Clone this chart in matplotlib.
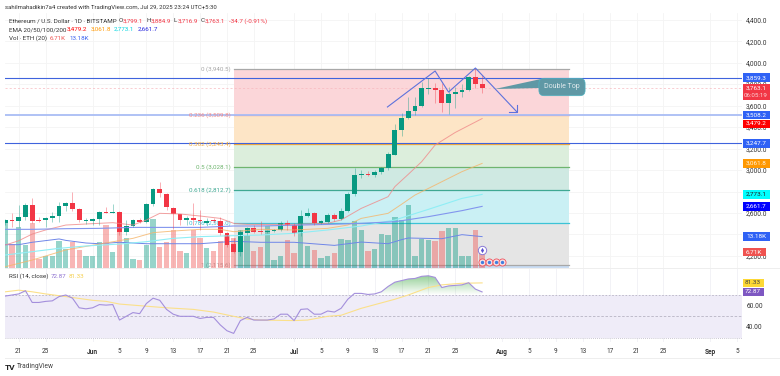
import numpy as np
import matplotlib
matplotlib.use('Agg')
import matplotlib.pyplot as plt
from matplotlib.patches import Rectangle
from matplotlib.path import Path

plt.rcParams['font.family'] = ['Roboto', 'DejaVu Sans']

W, H = 780, 376

# daily candles, day 0 is May 19 2025
opens = [2504,2535,2529,2560,2671,2535,2535,2553,2572,2665,2690,2637,2529,2529,2544,2612,2597,2612,2420,2482,
         2535,2516,2684,2823,2777,2650,2588,2535,2550,2535,2510,2529,2529,2411,2311,2234,2417,2457,2432,2423,
         2432,2442,2510,2488,2411,2575,2603,2510,2519,2578,2541,2622,2777,2954,2966,2954,2978,3016,3140,3376,
         3481,3549,3596,3757,3767,3748,3627,3708,3726,3745,3869,3799.1]
highs = [2545,2597,2674,2690,2736,2566,2566,2612,2705,2699,2792,2643,2557,2557,2622,2653,2681,2622,2535,2544,
         2550,2696,2830,2885,2783,2659,2588,2572,2690,2628,2550,2550,2566,2426,2364,2442,2473,2488,2528,2445,
         2450,2528,2535,2504,2628,2650,2612,2535,2603,2597,2643,2798,3015,3005,2990,3000,3030,3171,3425,3528,
         3683,3683,3816,3854,3807,3807,3776,3776,3798,3878,3953,3884.9]
lows = [2490,2473,2473,2535,2504,2519,2473,2519,2519,2622,2622,2519,2497,2488,2488,2597,2597,2395,2395,2473,
        2510,2510,2665,2746,2628,2451,2488,2488,2488,2442,2488,2504,2395,2280,2224,2200,2395,2411,2404,2410,
        2420,2435,2442,2389,2386,2566,2488,2498,2510,2525,2535,2612,2760,2930,2945,2935,2960,3000,3140,3320,
        3475,3512,3590,3705,3621,3537,3518,3580,3683,3736,3760,3716.9]
closes = [2535,2529,2560,2671,2529,2529,2557,2572,2665,2690,2634,2535,2535,2544,2612,2597,2612,2420,2482,2535,
          2516,2684,2823,2783,2653,2591,2535,2553,2535,2529,2529,2525,2411,2302,2234,2426,2457,2426,2423,2432,
          2442,2510,2488,2411,2575,2603,2510,2525,2578,2541,2622,2777,2954,2966,2954,2978,3016,3146,3376,3481,
          3549,3596,3760,3764,3748,3627,3708,3726,3745,3869,3798,3763.1]
volumes = [18.9,10,17.3,9.5,18.9,3.9,4.9,4.9,11.2,8.1,10.9,7.4,5.2,5.2,10.9,18.2,6.7,18.2,12.6,3.8,
           3.2,9.8,20.6,8.8,10.9,15.9,7.3,6.3,15.8,12.6,8.4,7,11.2,14,12.6,15.8,13.7,7.3,8.8,17.5,
           3.5,4.9,11.9,6.3,16.8,9.4,7.7,4,4.9,6.5,12.1,11.9,19.9,16.1,7.3,8.1,14.4,14,21.4,20.3,
           26.6,5.2,12.1,11.6,11.2,15.5,16.7,16.8,5.2,4.9,16.1,6.71]

ema20_days = [0,2,4,6,9,14,16,19,21,23,26,29,32,34,36,38,43,48,50,53,57,58,60,62,64,67,71]
ema20 = [2302,2342,2404,2442,2488,2504,2510,2488,2535,2597,2591,2572,2550,2504,2495,2494,2494,2504,2535,2643,2752,2845,2960,3078,3233,3350,3479.2]
ema50_days = [0,4,9,14,19,22,25,29,32,34,38,43,48,51,53,57,59,61,64,68,71]
ema50 = [2100,2162,2256,2311,2364,2417,2432,2448,2448,2426,2448,2442,2457,2488,2550,2597,2681,2767,2860,2985,3061.8]
ema100_days = [0,4,8,12,17,21,25,29,34,38,43,48,53,58,63,68,71]
ema100 = [2209,2240,2271,2293,2311,2333,2364,2380,2389,2395,2411,2442,2479,2535,2634,2736,2773.1]
ema200_days = [0,4,9,14,19,24,29,34,38,48,53,58,63,68,71]
ema200 = [2448,2448,2454,2457,2466,2466,2466,2479,2479,2494,2504,2519,2566,2622,2661.7]
volma_days = [0,2,4,8,9,12,14,17,21,25,29,34,38,43,49,53,57,59,60,65,68,71]
volma = [9.8,9.8,10.8,12.2,11.6,10.5,10.2,10.8,10.2,10.2,10.2,11.2,10.8,10.8,9.5,10.9,10.2,11.9,12.6,12.3,14,13.18]

rsi = [69,70,71,74,63,63,64,64.5,68.5,70,67,58,57,58,61,60.5,61,46.5,50,53.5,
       52.5,62,67,65,56.5,52,50,50,50,48,49,49,42,36.5,34,46,49,46.5,46.5,46.5,
       47.5,52,52,46,56.5,57,52,52,55,54,57.5,66,71.5,71.5,70.5,71,73,78,82,83.5,
       85,85.5,87.5,88,86.5,77,78.5,79,79.5,81.5,75.5,72.87]
rsima_days = [0,2,4,6,9,13,15,17,20,24,28,31,34,36,38,43,45,48,50,53,58,60,63,65,68,71]
rsima = [73,74.5,73,71,68.5,65,64,61.5,60,58,56.5,54,50,47.5,46.5,46,46.5,50,51,57.5,66,70,77,79.5,81,81.33]

fib_ratios = ['0', '0.236', '0.382', '0.5', '0.618', '0.786', '1']
fib_prices = [3940.5, 3509.8, 3243.4, 3028.1, 2812.7, 2506.0, 2115.6]
fib_fills = ['#fbd6d9', '#fde5c6', '#dceedc', '#cfe9e2', '#caf0f4', '#e5e5e5']
fib_lines = ['#a8a8a8', '#f28a8a', '#f2a93b', '#6fb56f', '#3fa893', '#3cc3d6', '#a8a8a8']
fib_start, fib_end = 34, 84

hlines = [3859.3, 3508.2, 3247.7]
price_ticks = [4400,4200,4000,3800,3600,3400,3200,3000,2800,2600,2400,2200]
rsi_ticks = [60, 40]
date_days = [2,6,13,17,21,25,29,33,37,43,47,51,55,59,63,67,74,78,82,86,90,94,98,105,109]
date_labels = ['21','25','Jun','5','9','13','17','21','25','Jul','5','9','13','17','21','25','Aug','5','9','13','17','21','25','Sep','5']
month_labels = ['Jun', 'Jul', 'Aug', 'Sep']

pattern_days = [56.9, 64, 66, 70, 76.2]
pattern_prices = [3587, 3922, 3726, 3950, 3540]
icon_days = [71, 72, 73, 74]

GREEN, RED = '#089981', '#f23645'
BLUE = '#3f63dd'

def fx(x):
    return x / W

def fy(y):
    return 1 - y / H

def pane(left, top, right, bottom):
    return fig.add_axes([fx(left), fy(bottom), (right - left) / W, (bottom - top) / H])

fig = plt.figure(figsize=(W / 100, H / 100), dpi=100, facecolor='white')
xlim = (-0.05, 109.7)

ax = pane(5, 13, 742, 268)
ax.set_xlim(*xlim)
ax.set_ylim(2088, 4462)
ax.set_xticks(date_days)
ax.grid(color='#f4f4f4', lw=0.6)
ax.set_axisbelow(True)
for s in ax.spines.values():
    s.set_visible(False)

# fib bands
for i in range(6):
    ax.fill_between([fib_start, fib_end], fib_prices[i], fib_prices[i + 1], color=fib_fills[i], lw=0, zorder=1)
ax.fill_between([fib_start, fib_end], fib_prices[6], 2088, color='#c9dcf3', lw=0, zorder=1)
for i, (r, p) in enumerate(zip(fib_ratios, fib_prices)):
    ax.plot([fib_start, fib_end], [p, p], color=fib_lines[i], lw=0.9, zorder=2)
    ax.text(fib_start - 0.5, p, f'{r} ({p:,.1f})', ha='right', va='center', fontsize=4.5, color=fib_lines[i], zorder=3)

for p in hlines:
    if p == 3508.2:
        ax.axhline(p, color='#a9bdf5', lw=1.3, zorder=2)
    else:
        ax.axhline(p, color=BLUE, lw=0.8, zorder=2)
ax.axhline(closes[-1], color='#f7b9bf', lw=0.5, ls=(0, (3, 3)), zorder=2)

# volume overlay
vax = ax.twinx()
vax.set_ylim(0, 107.1)
vax.axis('off')
days = np.arange(len(opens))
vcols = [GREEN if c >= o else '#ef5350' for o, c in zip(opens, closes)]
vax.bar(days, volumes, width=0.8, color=vcols, alpha=0.42, lw=0)
vax.plot(volma_days, volma, color='#6f86e8', lw=0.7)

# candles and emas
cax = ax.twinx()
cax.set_ylim(ax.get_ylim())
cax.axis('off')
cax.plot(ema20_days, ema20, color='#f08a8a', lw=0.7, alpha=0.8)
cax.plot(ema50_days, ema50, color='#f5b56a', lw=0.7, alpha=0.8)
cax.plot(ema100_days, ema100, color='#8feef5', lw=0.8)
cax.plot(ema200_days, ema200, color='#8295ee', lw=0.8)
for d, o, h, l, c in zip(days, opens, highs, lows, closes):
    col = GREEN if c >= o else RED
    cax.plot([d, d], [l, h], color=col, lw=0.5, alpha=0.55, solid_capstyle='butt')
    cax.bar(d, max(abs(c - o), 9), bottom=min(o, c), width=0.72, color=col, lw=0)

# twinx moves the ticks of ax to the left, so this has to come after
ax.yaxis.tick_right()
ax.set_yticks(price_ticks)
ax.set_yticklabels([f'{p:,.1f}' for p in price_ticks], fontsize=4.7, color='#333333')
ax.tick_params(length=0, labelbottom=False, pad=3)

# double top drawing
cax.plot(pattern_days, pattern_prices, color='#5d72dc', lw=0.8)
cax.plot([75.0, 76.2, 76.2], [3540, 3540, 3605], color='#5d72dc', lw=0.8)
fig.add_artist(plt.Polygon([(fx(495), fy(89)), (fx(541), fy(79)), (fx(541), fy(88))], transform=fig.transFigure, color='#5f98a5', lw=0))
fig.text(fx(562), fy(87), 'Double Top', ha='center', va='center', fontsize=5, color='#dfe9ec',
         bbox=dict(boxstyle='round,pad=0.75', fc='#5f98a5', ec='#4fb3c2', lw=0.5), zorder=4)

# end of chart icons
cax.scatter(icon_days, [2144] * 4, s=26, c='#fbe3e5', edgecolors='#f0505a', lw=0.6, zorder=5)
cax.scatter(icon_days, [2144] * 4, s=6, c='#3f7fe0', lw=0, zorder=6)
cax.scatter([71], [2255], s=36, c='white', edgecolors='#8a7ad6', lw=0.7, zorder=5)
cax.scatter([71], [2255], s=7, c='#5a50d0', marker='d', lw=0, zorder=6)

# rsi pane
rax = pane(5, 268, 742, 341.5)
rax.set_xlim(*xlim)
rax.set_ylim(26.4, 95.3)
for s in rax.spines.values():
    s.set_visible(False)
rax.set_xticks(date_days)
rax.set_xticklabels(date_labels, fontsize=4.7, color='#333333')
for t in rax.get_xticklabels():
    if t.get_text() in month_labels:
        t.set_fontweight('bold')
rax.yaxis.tick_right()
rax.set_yticks(rsi_ticks)
rax.set_yticklabels([f'{v:.2f}' for v in rsi_ticks], fontsize=4.7, color='#333333')
rax.tick_params(length=0, pad=3)
rax.tick_params(axis='x', pad=5)
rax.grid(color='#f0f0f5', lw=0.6)
rax.set_axisbelow(True)
rax.axhspan(30, 70, color='#efecf8', lw=0, zorder=1)
for v, dash in ((70, (2, 2)), (50, (3, 2)), (30, (1, 1.5))):
    rax.axhline(v, color='#b8b4c4', lw=0.6, ls=(0, dash), zorder=2)
poly = rax.fill_between(days, 70, rsi, where=np.array(rsi) >= 70, interpolate=True, color='none', lw=0)
rgba = np.zeros((64, 1, 4))
rgba[:, :, 0] = 0.30
rgba[:, :, 1] = 0.69
rgba[:, :, 2] = 0.31
rgba[:, 0, 3] = np.linspace(0.6, 0, 64)
img = rax.imshow(rgba, extent=[0, 71, 70, 88], origin='upper', aspect='auto', zorder=3)
img.set_clip_path(Path.make_compound_path(*poly.get_paths()), transform=rax.transData)
rax.set_xlim(*xlim)
rax.set_ylim(26.4, 95.3)
rax.plot(rsima_days, rsima, color='#fbe08a', lw=0.8, zorder=4)
rax.plot(days, rsi, color='#a48fdc', lw=0.8, zorder=5)

# pane separators
for y in (268, 358):
    fig.add_artist(plt.Line2D([fx(5), fx(780)], [fy(y), fy(y)], color='#eeeeee', lw=0.7))

# price tags on the right scale
def tag(axis, value, text, bg, fg='white', box_h=8.5, box_w=27, dy=0):
    y = H - axis.transData.transform((0, value))[1] + dy
    fig.add_artist(Rectangle((fx(742.5), fy(y + box_h / 2)), box_w / W, box_h / H, transform=fig.transFigure, fc=bg, ec='none', zorder=6))
    fig.text(fx(742.5 + box_w / 2), fy(y), text, ha='center', va='center', fontsize=4.6, color=fg, zorder=7)

tag(ax, hlines[0], '3,859.3', '#2f62f5')
y_last = H - ax.transData.transform((0, closes[-1]))[1]
fig.add_artist(Rectangle((fx(742.5), fy(99.5)), 27 / W, 16 / H, transform=fig.transFigure, fc='#f23645', ec='none', zorder=6))
fig.text(fx(756), fy(y_last), '3,763.1', ha='center', va='center', fontsize=4.6, color='white', zorder=7)
fig.text(fx(756), fy(y_last + 7), '06:05:19', ha='center', va='center', fontsize=4.4, color='#fbd5d8', zorder=7)
tag(ax, hlines[1], '3,508.2', '#2f62f5', box_h=8)
tag(ax, ema20[-1], '3,479.2', '#ff0000', box_h=8, dy=5)
tag(ax, hlines[2], '3,247.7', '#2f62f5')
tag(ax, ema50[-1], '3,061.8', '#ff9800', '#fff3dc')
tag(ax, ema100[-1], '2,773.1', '#00ffff', '#222222')
tag(ax, ema200[-1], '2,661.7', '#0000ff')
tag(vax, volma[-1], '13.18K', '#2f62f5')
tag(vax, volumes[-1], '6.71K', '#ef5350', box_w=23)
tag(rax, rsima[-1], '81.33', '#fdd835', '#444444', box_w=21)
tag(rax, rsi[-1], '72.87', '#7e57c2', 'white', box_w=21)

# header text
def label(x, y, s, color='#333333', size=4.5, **kw):
    fig.text(fx(x), fy(y), s, color=color, fontsize=size, va='center', ha='left', **kw)

label(5, 8, 'sahilmahadikin7a4 created with TradingView.com, Jul 29, 2025 23:24 UTC+5:30', size=4.35)
label(9, 21, 'Ethereum / U.S. Dollar · 1D · BITSTAMP')
label(118.5, 21, 'O')
label(123, 21, f'{opens[-1]:,.1f}', '#f23645')
label(146.5, 21, 'H')
label(151, 21, f'{highs[-1]:,.1f}', '#f23645')
label(174, 21, 'L')
label(178, 21, f'{lows[-1]:,.1f}', '#f23645')
label(200.5, 21, 'C')
label(205, 21, f'{closes[-1]:,.1f}', '#f23645')
label(229, 21, '-34.7 (-0.91%)', '#f23645')
label(9, 29.5, 'EMA 20/50/100/200')
label(67, 29.5, f'{ema20[-1]:,.1f}', '#ff0000')
label(90.5, 29.5, f'{ema50[-1]:,.1f}', '#ff9800')
label(114, 29.5, f'{ema100[-1]:,.1f}', '#00d5e0')
label(138, 29.5, f'{ema200[-1]:,.1f}', '#2222dd')
label(9, 38.5, 'Vol · ETH (20)')
label(50, 38.5, f'{volumes[-1]}K', '#ef5350')
label(70, 38.5, f'{volma[-1]}K', '#3a62f0')
label(9, 276, 'RSI (14, close)')
label(51, 276, f'{rsi[-1]}', '#8e72d0')
label(69, 276, f'{rsima[-1]}', '#f5d050')

# footer
label(5, 367, 'TV', '#222222', 6, fontweight='bold')
label(17, 367, 'TradingView', '#444444', 4.8)

fig.savefig('out.png', dpi=100)
